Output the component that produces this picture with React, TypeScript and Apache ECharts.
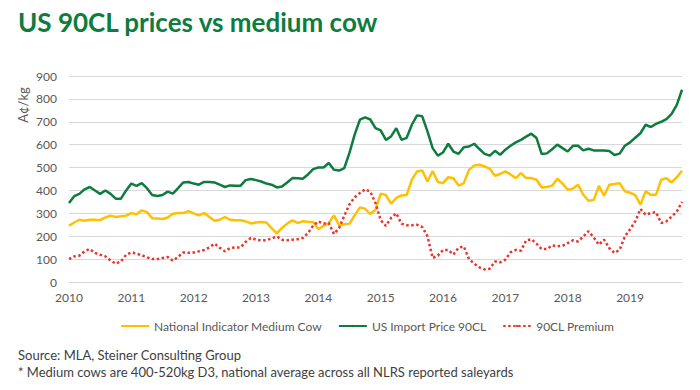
import React, { useEffect, useRef } from "react";
import * as echarts from "echarts";

const years = ["2010", "2011", "2012", "2013", "2014", "2015", "2016", "2017", "2018", "2019"];
const monthCount = 119; // Jan 2010 - Nov 2019
const categories: string[] = [];
for (let i = 0; i < monthCount; i++) {
  const y = years[Math.floor(i / 12)];
  const m = (i % 12) + 1;
  categories.push(`${y}-${m < 10 ? "0" + m : m}`);
}

const mediumCow = [
  246, 260, 272, 268, 272, 272, 270, 282, 290, 284, 287, 290,
  301, 296, 313, 305, 279, 277, 275, 282, 298, 301, 301, 310,
  300, 291, 301, 285, 268, 272, 284, 272, 270, 270, 265, 256,
  260, 262, 260, 235, 212, 236, 255, 269, 258, 265, 263, 262,
  231, 245, 257, 291, 248, 252, 255, 292, 326, 320, 297, 316,
  386, 380, 342, 367, 378, 380, 447, 483, 487, 439, 485, 437,
  432, 458, 453, 421, 432, 490, 509, 512, 505, 495, 464, 472,
  483, 470, 454, 476, 454, 454, 447, 413, 415, 421, 451, 430,
  403, 408, 425, 381, 355, 358, 420, 377, 425, 428, 432, 396,
  390, 380, 338, 396, 381, 381, 447, 454, 435, 458, 486,
];

const importPrice90CL = [
  345, 375, 385, 405, 415, 400, 385, 400, 385, 364, 364, 400,
  430, 420, 432, 410, 380, 376, 380, 395, 386, 410, 435, 437,
  430, 425, 437, 437, 435, 425, 415, 422, 420, 420, 445, 450,
  445, 439, 430, 425, 413, 417, 435, 454, 453, 451, 470, 493,
  500, 500, 520, 490, 487, 498, 565, 645, 709, 719, 710, 672,
  662, 621, 636, 672, 621, 630, 687, 728, 724, 658, 585, 552,
  566, 604, 570, 560, 589, 592, 604, 581, 560, 552, 573, 556,
  578, 595, 610, 621, 635, 648, 629, 559, 562, 580, 600, 585,
  570, 595, 595, 575, 582, 575, 575, 575, 572, 555, 561, 595,
  610, 630, 650, 687, 677, 691, 700, 712, 735, 774, 840,
];

const premium90CL = [
  100, 112, 115, 134, 144, 127, 119, 112, 94, 80, 90, 119,
  129, 124, 117, 108, 100, 100, 105, 109, 93, 110, 129, 128,
  129, 134, 140, 151, 167, 150, 134, 148, 151, 151, 175, 192,
  185, 182, 183, 190, 199, 185, 182, 185, 187, 192, 214, 246,
  265, 255, 258, 210, 236, 290, 340, 370, 389, 405, 395, 345,
  270, 245, 280, 300, 255, 248, 248, 250, 240, 200, 105, 115,
  140, 140, 120, 150, 155, 100, 80, 64, 55, 58, 90, 86,
  98, 130, 140, 137, 182, 187, 167, 144, 144, 160, 156, 158,
  170, 182, 177, 199, 222, 195, 163, 185, 148, 127, 141, 199,
  230, 265, 319, 294, 301, 305, 258, 265, 286, 308, 350,
];

const seriesNames = ["National Indicator Medium Cow", "US Import Price 90CL", "90CL Premium"];
const yTicks = { min: 0, max: 900, interval: 100 };

const FONT = "Lato, 'Open Sans', sans-serif";
const GREY = "#595959";

export default function App() {
  const ref = useRef<HTMLDivElement>(null);
  useEffect(() => {
    if (!ref.current) return;
    const chart = echarts.init(ref.current, undefined, { renderer: "svg" });
    chart.setOption({
      animation: false,
      backgroundColor: "#ffffff",
      textStyle: { fontFamily: FONT },
      grid: { left: 69, right: 18, top: 76, bottom: 108, containLabel: false },
      graphic: [
        {
          type: "text",
          left: 18,
          top: 9,
          style: {
            text: "US 90CL prices vs medium cow",
            fill: "#0E7C3E",
            font: `bold 26px ${FONT}`,
          },
        },
        {
          type: "text",
          x: 23,
          y: 105,
          rotation: Math.PI / 2,
          style: {
            text: "A¢/kg",
            fill: GREY,
            font: `13px ${FONT}`,
            align: "center",
            verticalAlign: "middle",
          },
        },
        {
          type: "text",
          left: 18,
          top: 348,
          style: {
            text: "Source: MLA, Steiner Consulting Group",
            fill: "#404040",
            font: `13px ${FONT}`,
          },
        },
        {
          type: "text",
          left: 18,
          top: 365,
          style: {
            text: "* Medium cows are 400-520kg D3, national average across all NLRS reported saleyards",
            fill: "#404040",
            font: `13px ${FONT}`,
          },
        },
      ],
      legend: {
        top: 315,
        left: 115,
        itemWidth: 28,
        itemHeight: 3,
        itemGap: 16,
        textStyle: { color: GREY, fontSize: 12, fontFamily: FONT },
        data: seriesNames,
      },
      xAxis: {
        type: "category",
        data: categories,
        boundaryGap: false,
        axisLine: { show: true, lineStyle: { color: "#d9d9d9" } },
        axisTick: { show: false },
        axisLabel: {
          color: GREY,
          fontSize: 12,
          margin: 9,
          interval: (index: number) => index % 12 === 0,
          formatter: (v: string) => v.slice(0, 4),
        },
        splitLine: { show: false },
      },
      yAxis: {
        type: "value",
        min: yTicks.min,
        max: yTicks.max,
        interval: yTicks.interval,
        axisLine: { show: false },
        axisTick: { show: false },
        axisLabel: { color: GREY, fontSize: 12, margin: 12 },
        splitLine: { lineStyle: { color: "#d9d9d9", width: 1 } },
      },
      series: [
        {
          name: seriesNames[0],
          type: "line",
          data: mediumCow,
          symbol: "none",
          color: "#FFC000",
          lineStyle: { color: "#FFC000", width: 2.5 },
        },
        {
          name: seriesNames[1],
          type: "line",
          data: importPrice90CL,
          symbol: "none",
          color: "#0E7C3E",
          lineStyle: { color: "#0E7C3E", width: 2.5 },
        },
        {
          name: seriesNames[2],
          type: "line",
          data: premium90CL,
          symbol: "none",
          color: "#E8352B",
          lineStyle: { color: "#E8352B", width: 2.5, type: [2.5, 2.5] },
        },
      ],
    });
    return () => chart.dispose();
  }, []);
  return (
    <div
      ref={ref}
      style={{ position: "fixed", left: 0, top: 0, width: 700, height: 390, background: "#fff" }}
    />
  );
}
